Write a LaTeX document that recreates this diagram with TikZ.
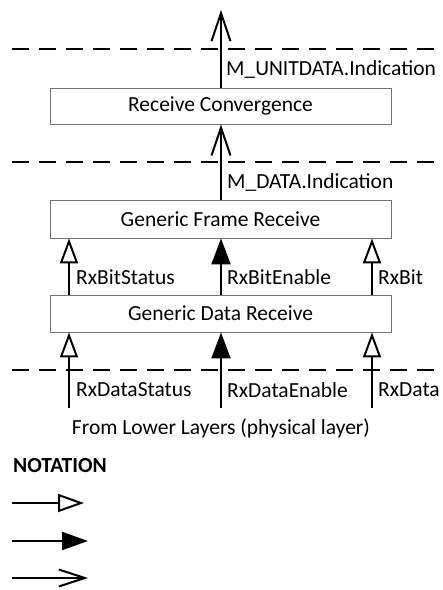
\documentclass[tikz,border=0pt]{standalone}
\usepackage{fontspec}
\setmainfont{Carlito}
\usetikzlibrary{arrows.meta}
\begin{document}
\begin{tikzpicture}[x=1pt,y=-1pt,
  box/.style={draw=black!55, line width=0.9pt, fill=white, minimum width=341pt, inner sep=0pt, font=\fontsize{21.5}{24}\selectfont},
  lbl/.style={anchor=west, inner sep=0pt, font=\fontsize{21.5}{24}\selectfont},
  layer/.style={line width=2pt, dash pattern=on 17pt off 10pt},
  sig/.style={line width=2pt},
  opentri/.style={-{Triangle[fill=white, length=25pt, width=18pt]}},
  filltri/.style={-{Triangle[length=26pt, width=19pt]}},
  vee/.style={-{Straight Barb[length=28pt, width=19pt, line width=2pt]}}
]
\useasboundingbox (0,0) rectangle (443,590);

% layer separators
\coordinate (d1a) at (12,49);  \coordinate (d1b) at (437,49);
\coordinate (d2a) at (12,162); \coordinate (d2b) at (437,162);
\coordinate (d3a) at (12,370); \coordinate (d3b) at (437,370);
\draw[layer] (d1a) -- (d1b);
\draw[layer] (d2a) -- (d2b);
\draw[layer] (d3a) -- (d3b);

% boxes
\node[box, minimum height=36pt] (rc) at (220.5,106) {Receive Convergence};
\node[box, minimum height=38pt] (gfr) at (220.5,219) {Generic Frame Receive};
\node[box, minimum height=37pt] (gdr) at (220.5,313.5) {Generic Data Receive};

% top arrows
\coordinate (top) at (221,10);
\draw[sig, vee] (rc.north -| top) -- (top);
\draw[sig, vee] (gfr.north -| top) -- (rc.south -| top);
\node[lbl] (l1) at (226,69) {M\_UNITDATA.Indication};
\node[lbl] (l2) at (227,182) {M\_DATA.Indication};

% columns
\coordinate (c1) at (69,408);
\coordinate (c2) at (221,408);
\coordinate (c3) at (372,408);
\draw[sig, opentri] (gdr.north -| c1) -- (gfr.south -| c1);
\draw[sig, filltri] (gdr.north -| c2) -- (gfr.south -| c2);
\draw[sig, opentri] (gdr.north -| c3) -- (gfr.south -| c3);
\draw[sig, opentri] (c1) -- (gdr.south -| c1);
\draw[sig, filltri] (c2) -- (gdr.south -| c2);
\draw[sig, opentri] (c3) -- (gdr.south -| c3);

\node[lbl] (b1) at (76,277) {RxBitStatus};
\node[lbl] (b2) at (227,277) {RxBitEnable};
\node[lbl] (b3) at (378,277) {RxBit};
\node[lbl] (a1) at (76,390) {RxDataStatus};
\node[lbl] (a2) at (227,390) {RxDataEnable};
\node[lbl] (a3) at (378,390) {RxData};

\node[inner sep=0pt, font=\fontsize{21.5}{24}\selectfont] (low) at (221,428) {From Lower Layers (physical layer)};

% notation
\node[lbl, font=\fontsize{21.5}{24}\selectfont\bfseries] (nt) at (13,466) {NOTATION};
\coordinate (n1a) at (12,503); \coordinate (n1b) at (84,503);
\coordinate (n2a) at (12,541); \coordinate (n2b) at (88,541);
\coordinate (n3a) at (12,578); \coordinate (n3b) at (88,578);
\draw[sig, -{Triangle[fill=white, length=26pt, width=18pt]}] (n1a) -- (n1b);
\draw[sig, -{Triangle[length=26pt, width=18pt]}] (n2a) -- (n2b);
\draw[sig, -{Straight Barb[length=26pt, width=17pt, line width=2pt]}] (n3a) -- (n3b);
\end{tikzpicture}
\end{document}
